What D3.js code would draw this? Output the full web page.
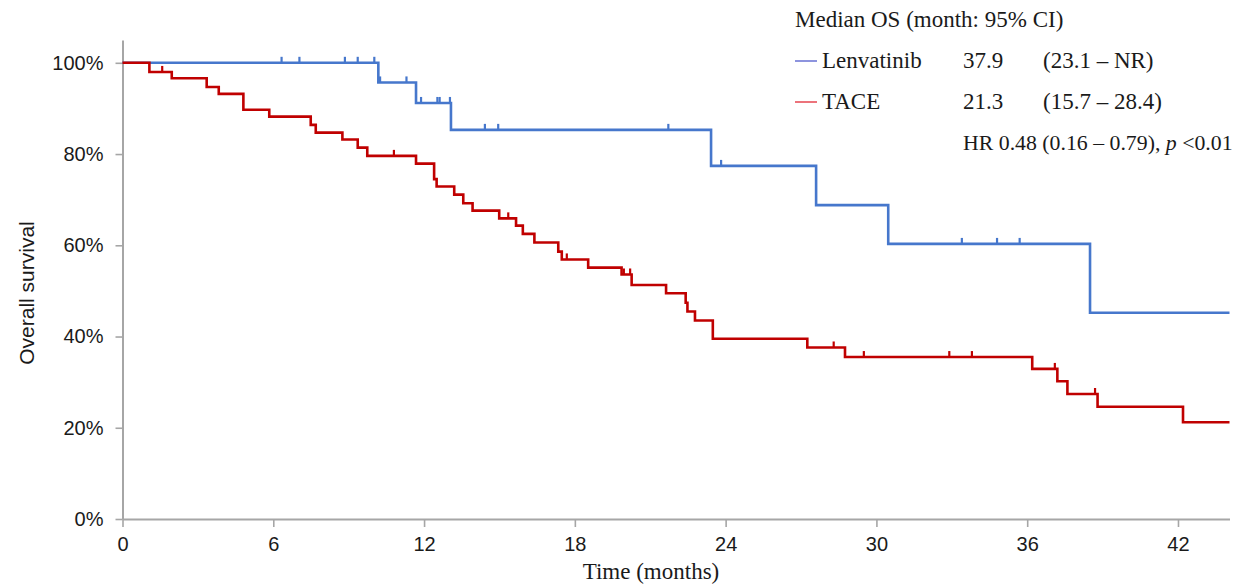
<!DOCTYPE html>
<html>
<head>
<meta charset="utf-8">
<script src="https://cdn.jsdelivr.net/npm/d3@7"></script>
<style>
  html, body { margin: 0; padding: 0; background: #fff; }
  svg { display: block; }
</style>
</head>
<body>
<svg id="chart" width="1235" height="585"></svg>
<script>
// Kaplan–Meier overall survival: event times (months) and survival after each event
const lenvEventTimes = [10.18, 11.68, 13.07, 23.42, 27.6, 30.47, 38.5];
const lenvSurvival   = [0.957, 0.912, 0.853, 0.774, 0.688, 0.603, 0.452];
const lenvCensored   = [6.33, 7.04, 8.85, 9.36, 10.02, 10.25, 11.3, 11.88, 12.53, 12.62, 13.03,
                        14.42, 14.95, 21.72, 23.82, 33.4, 34.8, 35.7];

const taceEventTimes = [1.07, 1.96, 3.35, 3.83, 4.81, 5.84, 7.49, 7.69, 8.75, 9.36, 9.74,
                        11.68, 12.40, 12.50, 13.20, 13.56, 13.93, 14.99, 15.66, 15.93, 16.39,
                        17.34, 17.48, 18.53, 19.86, 20.26, 21.63, 22.41, 22.48, 22.78, 23.49,
                        27.25, 28.75, 36.2, 37.2, 37.6, 38.8, 42.2];
const taceSurvival   = [0.980, 0.966, 0.947, 0.932, 0.897, 0.882, 0.864, 0.847, 0.832, 0.814, 0.796,
                        0.779, 0.745, 0.729, 0.711, 0.692, 0.676, 0.659, 0.643, 0.625, 0.606,
                        0.586, 0.569, 0.551, 0.536, 0.513, 0.495, 0.474, 0.455, 0.435, 0.395,
                        0.376, 0.355, 0.329, 0.302, 0.274, 0.246, 0.212];
const taceCensored   = [1.58, 10.8, 15.35, 17.68, 19.95, 20.2, 28.3, 29.5, 32.9, 33.8, 37.1, 38.7];

const xTicks = [0, 6, 12, 18, 24, 30, 36, 42];
const yTicks = [0, 0.2, 0.4, 0.6, 0.8, 1.0];

const followUpEnd = 44.05;

const series = [
  { name: "Lenvatinib", times: lenvEventTimes, surv: lenvSurvival, cens: lenvCensored,
    color: "#4677cc", legendColor: "#7079d6", median: "37.9", ci: "(23.1 \u2013 NR)" },
  { name: "TACE", times: taceEventTimes, surv: taceSurvival, cens: taceCensored,
    color: "#c00000", legendColor: "#e8505a", median: "21.3", ci: "(15.7 \u2013 28.4)" }
];

const hrParts = [
  { text: "HR 0.48 (0.16 \u2013 0.79),\u00a0", italic: false },
  { text: "p", italic: true },
  { text: "\u00a0<0.01", italic: false }
];

const svg = d3.select("#chart");
const x = d3.scaleLinear().domain([0, followUpEnd]).range([122.5, 1229.5]);
const y = d3.scaleLinear().domain([0, 1.05]).range([519, 40]);

const axisColor = "#a6a6a6";
const sans = "'Liberation Sans', Arial, sans-serif";
const serif = "'Liberation Serif', 'Times New Roman', serif";

// Y axis
const yAxis = svg.append("g").attr("transform", `translate(${x(0)},0)`)
  .call(d3.axisLeft(y).tickValues(yTicks).tickFormat(d3.format(".0%"))
    .tickSize(7).tickSizeOuter(0).tickPadding(12));
// X axis
const xAxis = svg.append("g").attr("transform", `translate(0,${y(0)})`)
  .call(d3.axisBottom(x).tickValues(xTicks).tickFormat(d3.format("d"))
    .tickSize(8).tickSizeOuter(0).tickPadding(10));

[yAxis, xAxis].forEach(g => {
  g.select(".domain").attr("stroke", axisColor).attr("stroke-width", 2);
  g.selectAll(".tick line").attr("stroke", axisColor).attr("stroke-width", 1.6);
  g.selectAll(".tick text").attr("fill", "#1a1a1a")
    .style("font-family", sans).style("font-size", "20px");
});

// Axis titles
svg.append("text")
  .attr("transform", `translate(34,293) rotate(-90)`)
  .attr("text-anchor", "middle")
  .style("font-family", sans).style("font-size", "21px").attr("fill", "#1a1a1a")
  .text("Overall survival");

svg.append("text")
  .attr("x", 651).attr("y", 579)
  .attr("text-anchor", "middle")
  .style("font-family", serif).style("font-size", "23px").attr("fill", "#1a1a1a")
  .text("Time (months)");

// Survival step curves
const line = d3.line().x(d => x(d[0])).y(d => y(d[1])).curve(d3.curveStepAfter);

function survAt(s, t) {
  let v = 1;
  s.times.forEach((et, i) => { if (et <= t) v = s.surv[i]; });
  return v;
}

series.forEach(s => {
  const pts = [[0, 1]].concat(s.times.map((t, i) => [t, s.surv[i]]));
  pts.push([followUpEnd, s.surv[s.surv.length - 1]]);
  const g = svg.append("g");
  g.append("path").datum(pts)
    .attr("fill", "none").attr("stroke", s.color).attr("stroke-width", 2.6)
    .attr("d", line);
  // Censor marks
  g.selectAll("line.cens").data(s.cens).join("line")
    .attr("class", "cens")
    .attr("x1", d => x(d)).attr("x2", d => x(d))
    .attr("y1", d => y(survAt(s, d)))
    .attr("y2", d => y(survAt(s, d)) - 6)
    .attr("stroke", s.color).attr("stroke-width", 2.2);
});

// Legend block
const leg = svg.append("g").style("font-family", serif).style("font-size", "23px").attr("fill", "#1a1a1a");
leg.append("text").attr("x", 795).attr("y", 27).text("Median OS (month: 95% CI)");
series.forEach((s, i) => {
  const base = 68 + i * 41;
  leg.append("line")
    .attr("x1", 795).attr("x2", 817).attr("y1", base - 7).attr("y2", base - 7)
    .attr("stroke", s.legendColor).attr("stroke-width", 1.6);
  leg.append("text").attr("x", 822).attr("y", base).text(s.name);
  leg.append("text").attr("x", 963).attr("y", base).text(s.median);
  leg.append("text").attr("x", 1043).attr("y", base).text(s.ci);
});

// Hazard ratio line, laid out piece by piece
let hx = 963;
hrParts.forEach(p => {
  const t = leg.append("text").attr("x", hx).attr("y", 150)
    .style("font-size", "21.8px")
    .style("font-style", p.italic ? "italic" : "normal")
    .text(p.text);
  hx += t.node().getComputedTextLength();
});
</script>
</body>
</html>
